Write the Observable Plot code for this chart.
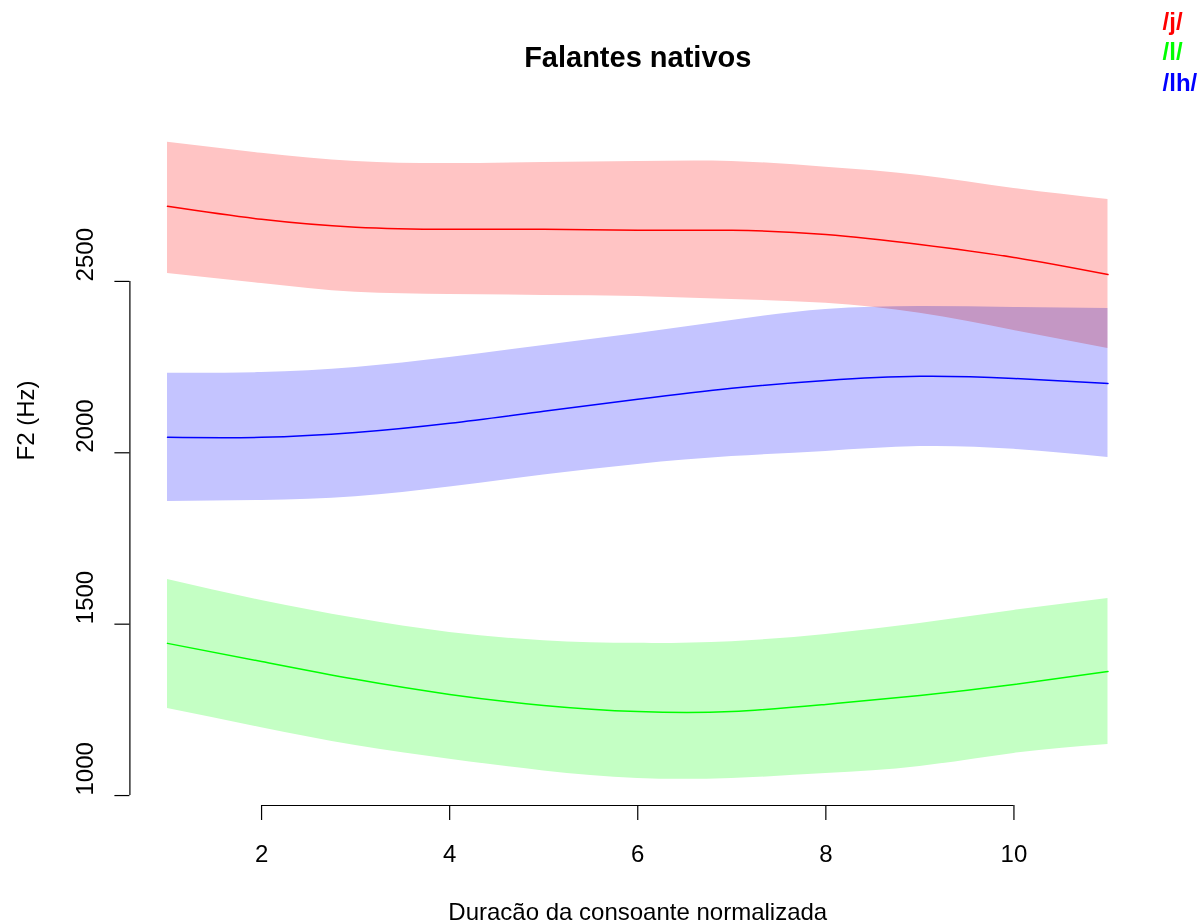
<!DOCTYPE html>
<html>
<head>
<meta charset="utf-8">
<script src="https://cdn.jsdelivr.net/npm/d3@7"></script>
<script src="https://cdn.jsdelivr.net/npm/@observablehq/plot@0.6"></script>
<style>
  html, body { margin: 0; padding: 0; background: #fff; }
  #chart { width: 1197px; height: 923px; }
</style>
</head>
<body>
<div id="chart"></div>
<script>
// ---- data ----
const titleText = "Falantes nativos";
const xLabel = "Duracão da consoante normalizada";
const yLabel = "F2 (Hz)";
const durations = [1, 2, 3, 4, 5, 6, 7, 8, 9, 10, 11];
const xTicks = [2, 4, 6, 8, 10];
const yTicks = [1000, 1500, 2000, 2500];

const seriesNames = ["/j/", "/l/", "/lh/"];
const seriesColors = ["#ff0000", "#00ff00", "#0000ff"];
const bandColors = ["#ffc4c4", "#c4ffc4", "#c4c4ff"];

const jFit   = [2719, 2681, 2658, 2652, 2652, 2649, 2649, 2637, 2608, 2570, 2520];
const jUpper = [2906, 2874, 2850, 2844, 2847, 2850, 2850, 2833, 2809, 2771, 2739];
const jLower = [2523, 2494, 2468, 2462, 2459, 2456, 2447, 2436, 2407, 2357, 2304];

const lFit   = [1444, 1391, 1339, 1295, 1263, 1245, 1245, 1266, 1292, 1324, 1362];
const lUpper = [1630, 1569, 1517, 1476, 1452, 1444, 1449, 1470, 1502, 1540, 1575];
const lLower = [1254, 1198, 1146, 1106, 1072, 1050, 1050, 1064, 1085, 1123, 1149];

const lhFit   = [2045, 2045, 2059, 2086, 2121, 2156, 2188, 2211, 2223, 2217, 2202];
const lhUpper = [2232, 2234, 2249, 2278, 2313, 2348, 2386, 2418, 2427, 2424, 2421];
const lhLower = [1858, 1861, 1872, 1900, 1935, 1966, 1989, 2004, 2018, 2010, 1986];

// ---- build tables ----
const fits = [jFit, lFit, lhFit];
const uppers = [jUpper, lUpper, lhUpper];
const lowers = [jLower, lLower, lhLower];
const tables = seriesNames.map((name, s) =>
  durations.map((x, i) => ({x, fit: fits[s][i], hi: uppers[s][i], lo: lowers[s][i], series: name}))
);

const xDomain = [0.6, 11.4];
const yDomain = [971, 2984];

const bandMarks = tables.map((t, s) =>
  Plot.areaY(t, {x: "x", y1: "lo", y2: "hi", fill: bandColors[s], curve: "natural", mixBlendMode: "multiply"})
);
const lineMarks = tables.map((t, s) =>
  Plot.lineY(t, {x: "x", y: "fit", stroke: seriesColors[s], strokeWidth: 1.5, curve: "natural"})
);
const legendOffsets = [-93, -63, -32];
const legendMarks = seriesNames.map((name, s) =>
  Plot.text([name], {frameAnchor: "top-right", lineAnchor: "middle", text: d => d, dx: 17, dy: legendOffsets[s],
    textAnchor: "start", fill: seriesColors[s], fontWeight: "bold", fontSize: 24})
);

const chart = Plot.plot({
  width: 1197,
  height: 923,
  marginLeft: 129.4,
  marginRight: 51.9,
  marginTop: 115,
  marginBottom: 118,
  style: {fontFamily: "'Liberation Sans', Arial, sans-serif", fontSize: "24px", background: "#fff", overflow: "visible"},
  x: {domain: xDomain},
  y: {domain: yDomain},
  marks: [
    ...bandMarks,
    ...lineMarks,
    // x axis
    Plot.axisX({ticks: xTicks, tickSize: 15, tickPadding: 24, fontSize: 24, label: null, stroke: "#000", strokeWidth: 1.2, color: "#000"}),
    Plot.ruleY([yDomain[0]], {x1: xTicks[0], x2: xTicks[xTicks.length - 1], stroke: "#000", strokeWidth: 1.2}),
    // y axis
    Plot.axisY({ticks: yTicks, tickSize: 15, tickFormat: () => "", label: null, stroke: "#000", strokeWidth: 1.2}),
    Plot.ruleX([xDomain[0]], {y1: yTicks[0], y2: yTicks[yTicks.length - 1], stroke: "#000", strokeWidth: 1.2}),
    Plot.text(yTicks, {y: d => d, text: d => String(d), frameAnchor: "left", lineAnchor: "middle", dx: -45, rotate: -90, fontSize: 24, fill: "#000"}),
    // axis titles
    Plot.text([xLabel], {text: d => d, frameAnchor: "bottom", lineAnchor: "middle", dy: 107, fontSize: 24, fill: "#000"}),
    Plot.text([yLabel], {text: d => d, frameAnchor: "left", lineAnchor: "middle", dx: -104, rotate: -90, fontSize: 24, fill: "#000"}),
    // title
    Plot.text([titleText], {text: d => d, frameAnchor: "top", lineAnchor: "middle", dy: -58, fontSize: 29, fontWeight: "bold", fill: "#000"}),
    ...legendMarks
  ]
});
document.getElementById("chart").appendChild(chart);
</script>
</body>
</html>
